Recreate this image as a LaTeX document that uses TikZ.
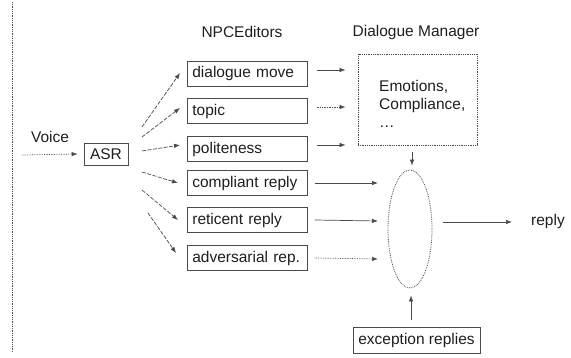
\documentclass[tikz,border=0pt]{standalone}
\usepackage{fontspec}
\setmainfont{Liberation Sans}
\usetikzlibrary{arrows.meta,shapes.geometric}
\definecolor{ink}{HTML}{1E1E1E}
\definecolor{ln}{HTML}{4A4A4A}
\begin{document}
\begin{tikzpicture}[x=1pt,y=-1pt,
  every node/.style={text=ink,font=\fontsize{15.5}{18}\selectfont},
  ebox/.style={draw=ln,line width=0.7pt,anchor=west,minimum height=25pt,text width=110pt,inner xsep=5pt,inner ysep=0pt,align=left},
  arr/.style={draw=ln,line width=0.7pt,-{Latex[length=6pt,width=4.5pt]}},
  dotarr/.style={arr,densely dotted},
  dsharr/.style={arr,dash pattern=on 4pt off 1.5pt},
  lbl/.style={inner sep=0pt}]
\useasboundingbox (0,0) rectangle (571,358);
% left dotted rule
\draw[ln,densely dotted,line width=0.8pt] (12,2) -- (12,352);
% titles
\node[lbl] (npc) at (242,32) {NPCEditors};
\node[lbl] (dmt) at (416,32) {Dialogue Manager};
% voice and ASR
\node[lbl] (voice) at (50,137) {Voice};
\coordinate (vin) at (22,155);
\node[draw=ln,line width=0.7pt,minimum width=44pt,minimum height=22pt,inner sep=0pt] (asr) at (106,154) {ASR};
% editor boxes
\node[ebox] (b1) at (187,73.5) {dialogue move};
\node[ebox] (b2) at (187,111) {topic};
\node[ebox] (b3) at (187,149) {politeness};
\node[ebox] (b4) at (187,183) {compliant reply};
\node[ebox] (b5) at (187,220) {reticent reply};
\node[ebox] (b6) at (187,258) {adversarial rep.};
% dialogue manager
\node[draw=ln,densely dotted,line width=0.8pt,minimum width=119pt,minimum height=91pt,inner sep=0pt] (dm) at (417.5,99.5) {};
\node[lbl,anchor=north west,align=left] (dmtext) at (379,80) {Emotions,\\Compliance,\\\ldots};
% combiner ellipse
\node[draw=ln,densely dotted,line width=0.8pt,ellipse,minimum width=44pt,minimum height=118pt,inner sep=0pt] (ell) at (410,229) {};
% reply
\node[lbl] (reply) at (548,221) {reply};
% exception replies
\node[draw=ln,line width=0.7pt,minimum width=127pt,minimum height=26pt,inner sep=0pt] (exc) at (416.5,340) {exception replies};
% connectors
\draw[dotarr] (vin) -- ([xshift=-6pt]asr.west);
\coordinate (s1) at (142,127);
\coordinate (s2) at (142,137);
\coordinate (s3) at (142,151);
\coordinate (s4) at (142,172);
\coordinate (s5) at (142,190);
\coordinate (s6) at (148,213);
\draw[dsharr] (s1) -- ([xshift=-7pt,yshift=0.5pt]b1.west);
\draw[dsharr] (s2) -- ([xshift=-7pt,yshift=3pt]b2.west);
\draw[dsharr] (s3) -- ([xshift=-7pt,yshift=4pt]b3.west);
\draw[dsharr] (s4) -- ([xshift=-9pt]b4.west);
\draw[dsharr] (s5) -- ([xshift=-9pt]b5.west);
\draw[dsharr] (s6) -- ([xshift=-11pt,yshift=5pt]b6.west);
\draw[arr] ([xshift=9pt,yshift=3.5pt]b1.east) -- ([xshift=-12pt,yshift=3.5pt]b1.east -| dm.west);
\draw[dotarr] ([xshift=9pt,yshift=4pt]b2.east) -- ([xshift=-12pt,yshift=4pt]b2.east -| dm.west);
\draw[arr] ([xshift=9pt,yshift=4pt]b3.east) -- ([xshift=-12pt,yshift=4pt]b3.east -| dm.west);
\coordinate (e4) at (378,183);
\coordinate (e5) at (378,221);
\coordinate (e6) at (378,259);
\draw[arr] ([xshift=7pt]b4.east) -- (e4);
\draw[arr] ([xshift=7pt]b5.east) -- (e5);
\draw[dotarr] ([xshift=7pt]b6.east) -- (e6);
\draw[arr] ([xshift=2pt,yshift=-7pt]dm.south -| ell.north) -- ([xshift=2pt,yshift=4pt]ell.north);
\draw[arr] ([xshift=1pt,yshift=7pt]exc.north -| ell.south) -- ([xshift=1pt,yshift=-7pt]ell.south);
\draw[arr] ([xshift=11pt,yshift=7pt]ell.east) -- ([xshift=-19pt,yshift=7pt]ell.east -| reply.west);
\end{tikzpicture}
\end{document}
